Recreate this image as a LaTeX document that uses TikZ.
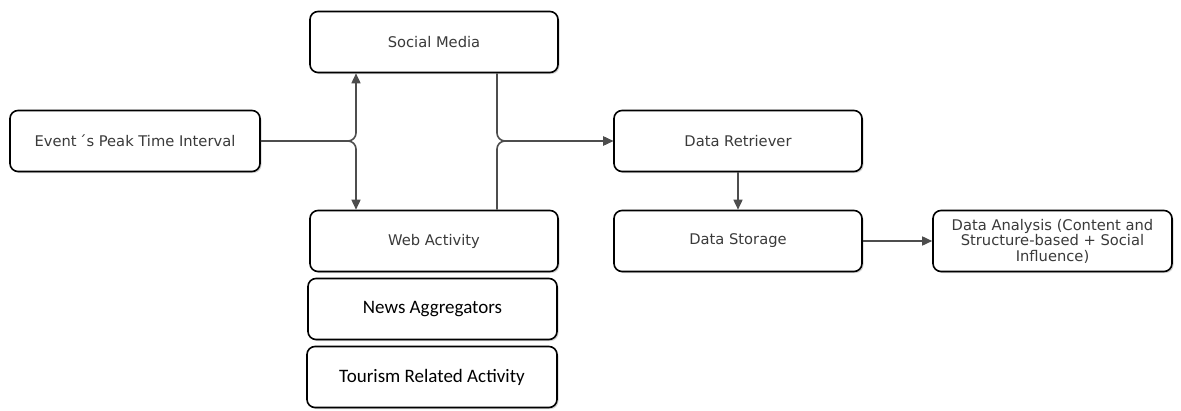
\documentclass[tikz,border=0pt]{standalone}
\usepackage{fontspec}
\setmainfont{DejaVu Sans}
\newfontfamily\calib{Carlito}
\usetikzlibrary{arrows.meta,shadows}
\definecolor{wire}{HTML}{4D4D4D}
\definecolor{ink}{HTML}{3A3A3A}
\tikzset{
  box/.style={draw=black, line width=1.6pt, rounded corners=8pt, fill=white,
    minimum width=248pt, minimum height=61pt, align=center, text=ink,
    font=\fontsize{14.7}{15.5}\selectfont,
    drop shadow={shadow xshift=1.5pt, shadow yshift=-1.5pt, opacity=0.35, fill=gray}},
  calbox/.style={box, text=black, font=\calib\fontsize{19}{21}\selectfont},
  wirel/.style={draw=wire, line width=1.6pt, rounded corners=8pt},
  arr/.style={wirel, -{Triangle[length=10pt,width=9pt]}},
}
\begin{document}
\begin{tikzpicture}[x=1pt,y=-1pt]
  \useasboundingbox (0,0) rectangle (1181,410);
  % boxes
  \node[box] (sm) at (434,42) {Social Media};
  \node[box, minimum width=250pt] (ev) at (135,141) {Event\,´s Peak Time Interval};
  \node[box] (wa) at (434,241) {Web Activity};
  \node[calbox, minimum width=249pt] (na) at (432.5,309) {News Aggregators};
  \node[calbox, minimum width=250pt] (tr) at (432,377) {Tourism Related Activity};
  \node[box] (dr) at (738,141) {Data Retriever};
  \node[box] (ds) at (738,241) {Data Storage};
  \node[box, minimum width=239pt] (da) at (1052.5,241) {Data Analysis (Content and\\Structure-based + Social\\Influence)};
  % junction columns
  \coordinate (j1) at (356,141);
  \coordinate (j2) at (497,141);
  % connectors
  \draw[arr] (ev.east) -| (sm.south -| j1);
  \draw[arr] (ev.east) -| (wa.north -| j1);
  \draw[arr] (sm.south -| j2) |- (dr.west);
  \draw[arr] (wa.north -| j2) |- (dr.west);
  \draw[arr] (dr.south) -- (ds.north);
  \draw[arr] (ds.east) -- (da.west);
\end{tikzpicture}
\end{document}
